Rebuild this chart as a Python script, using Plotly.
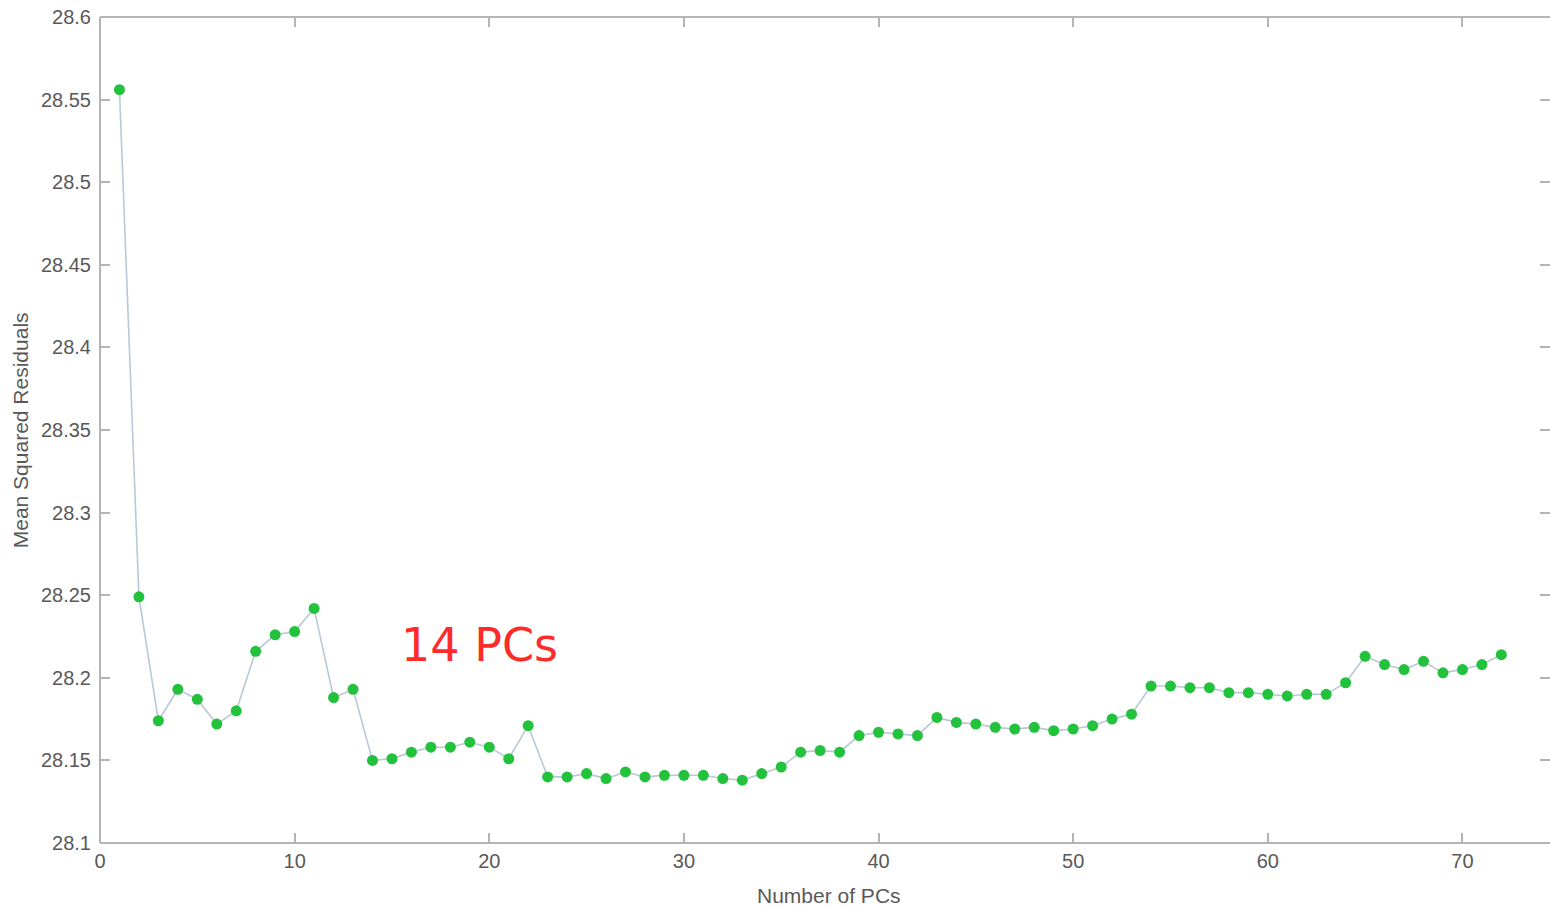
import plotly.graph_objects as go

# Cross-validated mean squared residuals by number of principal components
num_pcs = list(range(1, 73))
msr = [
    28.556, 28.249, 28.174, 28.193, 28.187, 28.172, 28.180, 28.216, 28.226, 28.228,
    28.242, 28.188, 28.193, 28.150, 28.151, 28.155, 28.158, 28.158, 28.161, 28.158,
    28.151, 28.171, 28.140, 28.140, 28.142, 28.139, 28.143, 28.140, 28.141, 28.141,
    28.141, 28.139, 28.138, 28.142, 28.146, 28.155, 28.156, 28.155, 28.165, 28.167,
    28.166, 28.165, 28.176, 28.173, 28.172, 28.170, 28.169, 28.170, 28.168, 28.169,
    28.171, 28.175, 28.178, 28.195, 28.195, 28.194, 28.194, 28.191, 28.191, 28.190,
    28.189, 28.190, 28.190, 28.197, 28.213, 28.208, 28.205, 28.210, 28.203, 28.205,
    28.208, 28.214,
]

x_ticks = [0, 10, 20, 30, 40, 50, 60, 70]
y_ticks = [28.1, 28.15, 28.2, 28.25, 28.3, 28.35, 28.4, 28.45, 28.5, 28.55, 28.6]
y_tick_text = ["28.1", "28.15", "28.2", "28.25", "28.3", "28.35", "28.4",
               "28.45", "28.5", "28.55", "28.6"]

annotation_text = "14 PCs"
annotation_x = 19.5
annotation_y = 28.22

x_title = "Number of PCs"
y_title = "Mean Squared Residuals"

axis_grey = "#b4b4b4"
text_grey = "#595959"
label_family = "Liberation Sans, Arial, sans-serif"
tick_font = dict(family=label_family, size=20, color=text_grey)
title_font = dict(family=label_family, size=21, color=text_grey)

fig = go.Figure()
fig.add_trace(go.Scatter(
    x=num_pcs,
    y=msr,
    mode="lines+markers",
    line=dict(color="#b9c7d6", width=1.6),
    marker=dict(color="#22c23c", size=11, line=dict(width=0)),
    showlegend=False,
))

fig.add_annotation(
    x=annotation_x, y=annotation_y, xref="x", yref="y",
    text=annotation_text, showarrow=False,
    font=dict(family="DejaVu Sans, Verdana, sans-serif", size=46, color="#ff2a2a"),
)

# Axis titles, positioned relative to the plotting area
fig.add_annotation(
    x=0.503, y=-0.063, xref="paper", yref="paper", text=x_title, showarrow=False,
    font=title_font, xanchor="center", yanchor="middle",
)
fig.add_annotation(
    x=-0.055, y=0.5, xref="paper", yref="paper", text=y_title, showarrow=False,
    font=title_font, textangle=-90, xanchor="center", yanchor="middle",
)

# Box edges: left, bottom and top (the right edge runs off the canvas)
for x0, x1, y0, y1 in [(0, 0, 0, 1), (0, 1, 0, 0), (0, 1, 1, 1)]:
    fig.add_shape(type="line", xref="paper", yref="paper", x0=x0, x1=x1, y0=y0, y1=y1,
                  line=dict(color=axis_grey, width=2))

fig.update_xaxes(
    range=[0, 74.5],
    tickvals=x_ticks,
    ticks="inside", ticklen=10, tickwidth=1.5, tickcolor=axis_grey,
    showline=False, mirror="ticks",
    showgrid=False, zeroline=False,
    tickfont=tick_font, ticklabelstandoff=4,
)
fig.update_yaxes(
    range=[28.1, 28.6],
    tickvals=y_ticks, ticktext=y_tick_text,
    ticks="inside", ticklen=10, tickwidth=1.5, tickcolor=axis_grey,
    showline=False, mirror="ticks",
    showgrid=False, zeroline=False,
    tickfont=tick_font, ticklabelstandoff=8,
)

fig.update_layout(
    width=1550, height=906,
    margin=dict(l=100, r=0, t=17, b=63),
    paper_bgcolor="white", plot_bgcolor="white",
)

fig.write_html("out.html")
